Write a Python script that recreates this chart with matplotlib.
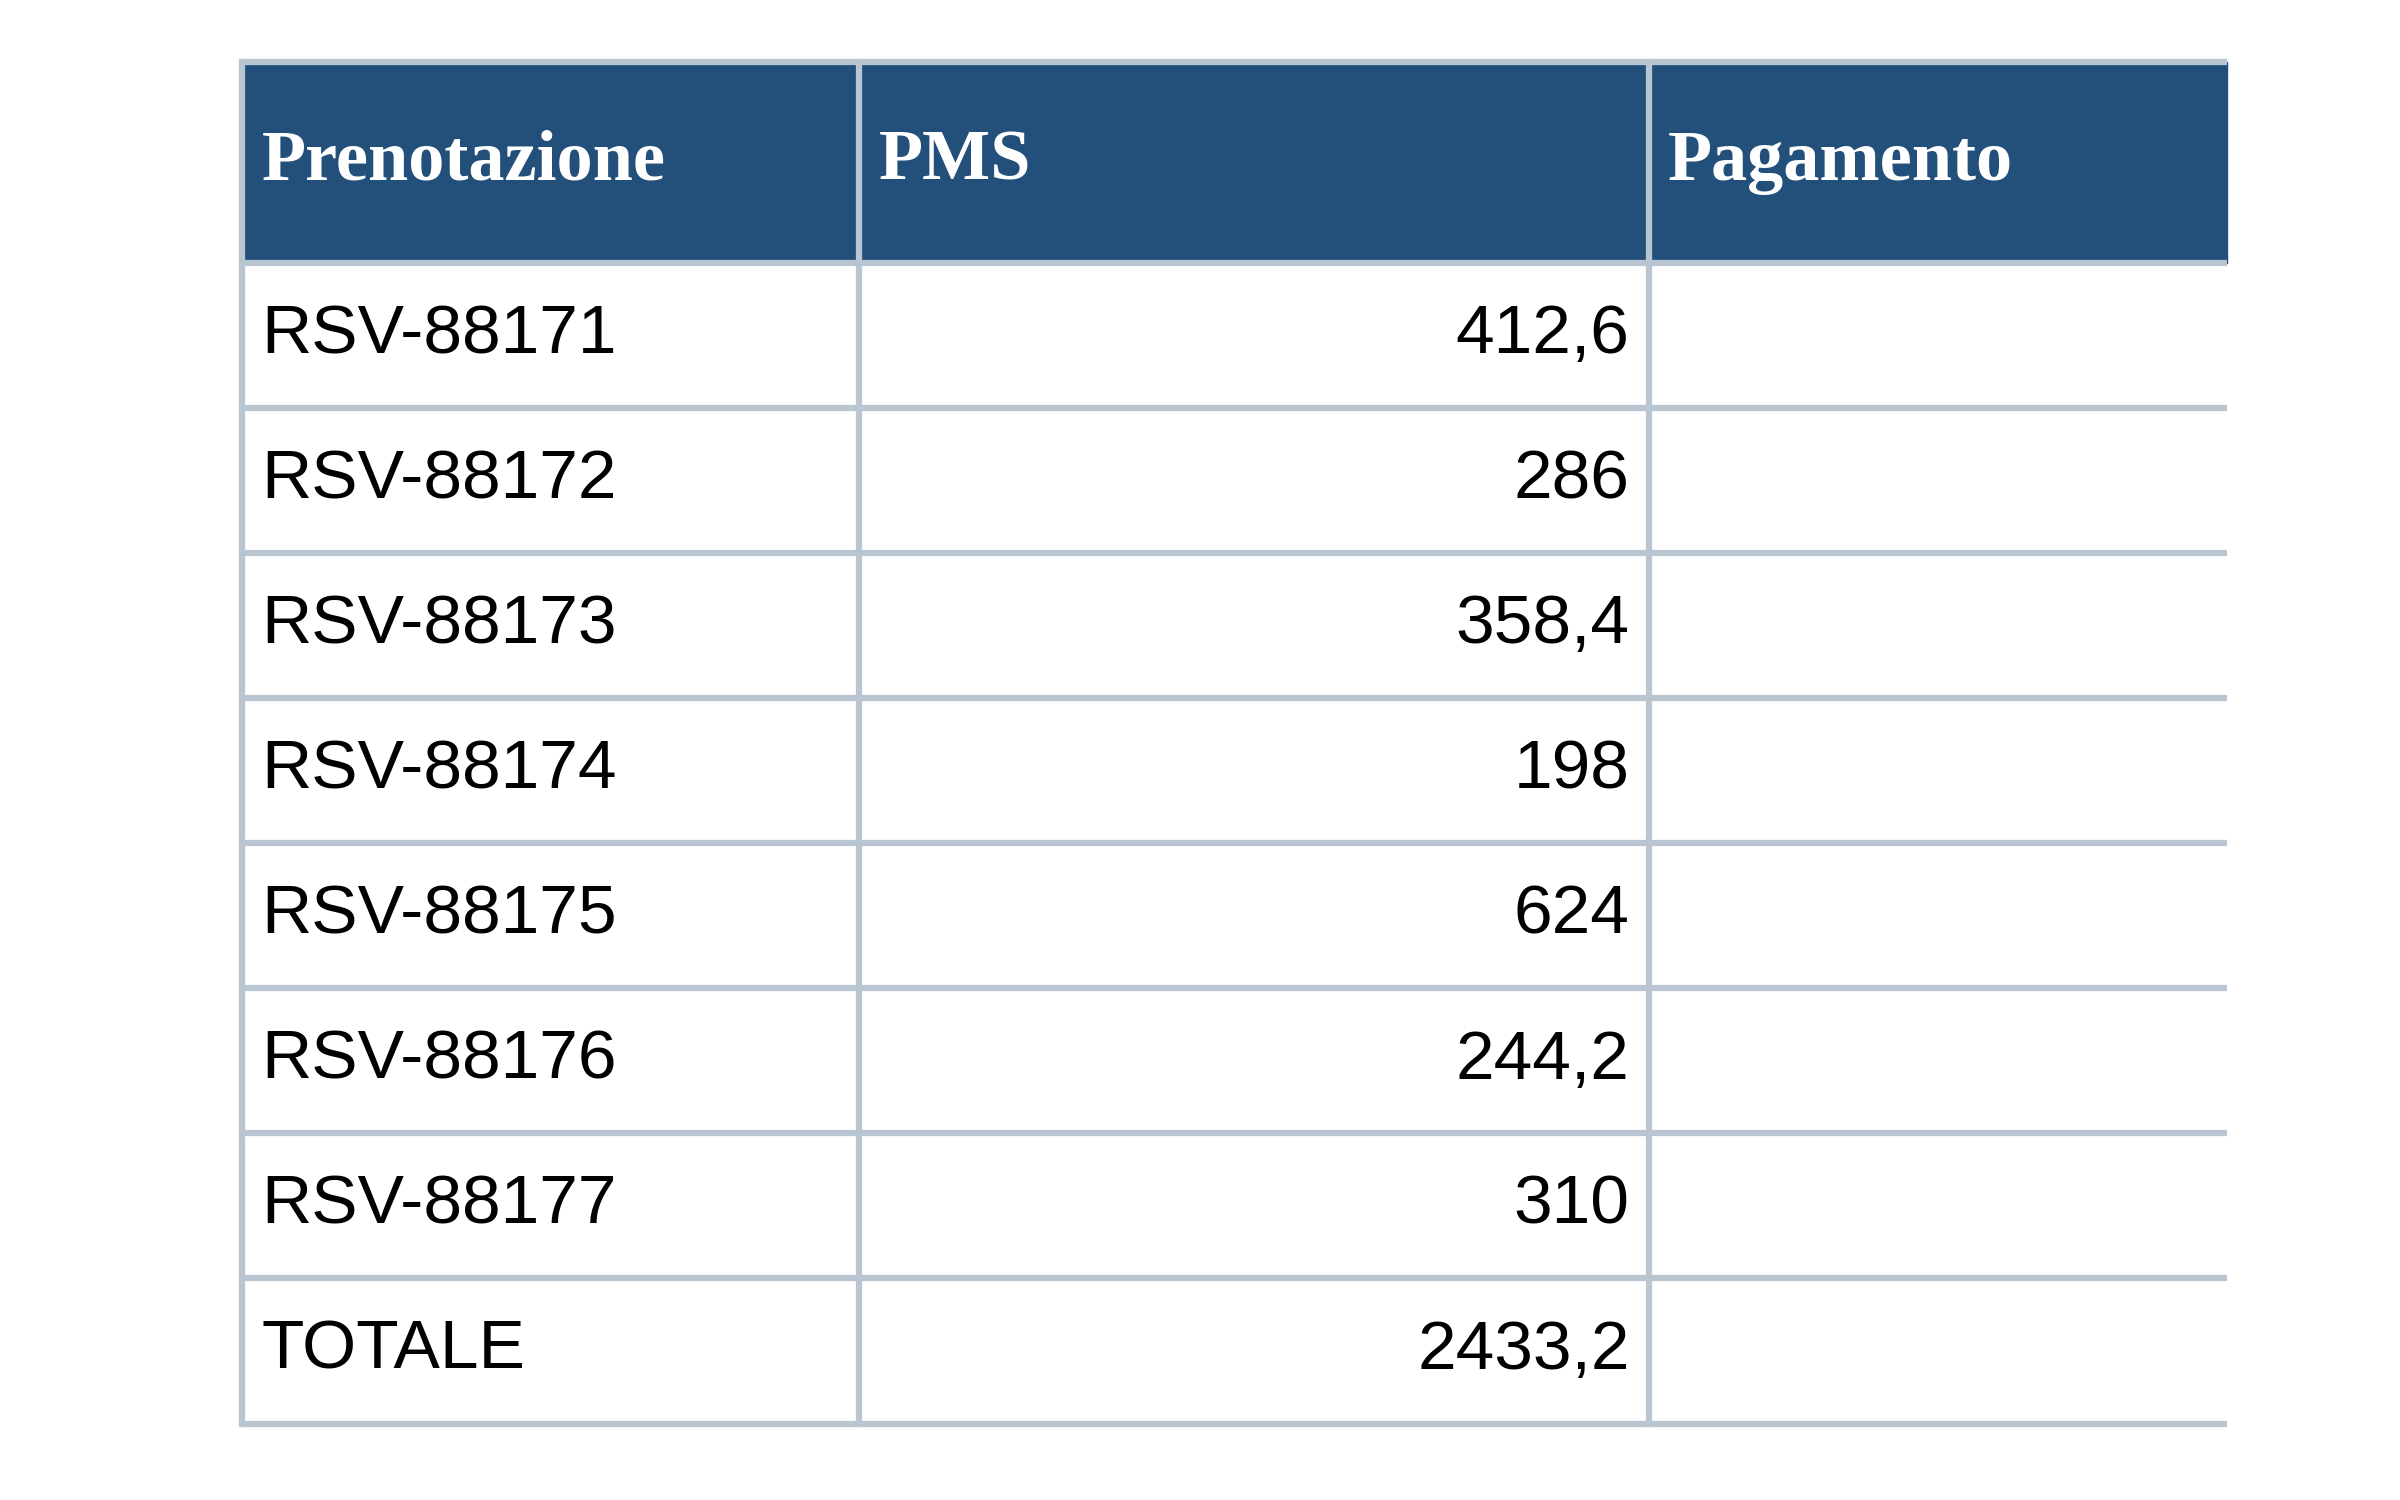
import matplotlib

matplotlib.use("Agg")

import matplotlib.pyplot as plt

headers = ["Prenotazione", "PMS", "Pagamento"]
bookings = ["RSV-88171", "RSV-88172", "RSV-88173", "RSV-88174",
            "RSV-88175", "RSV-88176", "RSV-88177", "TOTALE"]
pms_values = ["412,6", "286", "358,4", "198", "624", "244,2", "310", "2433,2"]

HEADER_BG = "#22507a"
GRID = "#b9c5d1"

col_x = [0.101, 0.358, 0.687, 0.928]
top, header_bottom, bottom = 0.959, 0.825, 0.051
row_h = (header_bottom - bottom) / len(bookings)

fig = plt.figure(figsize=(24, 15), dpi=100)
ax = fig.add_axes([0, 0, 1, 1])
ax.set_xlim(0, 1)
ax.set_ylim(0, 1)
ax.axis("off")

ax.add_patch(plt.Rectangle((col_x[0], header_bottom), col_x[-1] - col_x[0],
                           top - header_bottom, color=HEADER_BG, zorder=1))

for i, name in enumerate(headers):
    ax.text(col_x[i] + 0.008, (top + header_bottom) / 2, name,
            family=["Liberation Serif", "DejaVu Serif"], fontweight="bold",
            fontsize=52, color="white", va="center", ha="left", zorder=3)

for r, (name, value) in enumerate(zip(bookings, pms_values)):
    yc = header_bottom - (r + 0.5) * row_h
    ax.text(col_x[0] + 0.008, yc, name, family=["Liberation Sans", "DejaVu Sans"],
            fontsize=50, va="center", ha="left", color="black", zorder=3)
    ax.text(col_x[2] - 0.008, yc, value, family=["Liberation Sans", "DejaVu Sans"],
            fontsize=50, va="center", ha="right", color="black", zorder=3)

# grid lines
lw = 4.5
for k in range(len(bookings) + 1):
    y = header_bottom - k * row_h
    ax.plot([col_x[0], col_x[-1]], [y, y], color=GRID, lw=lw, zorder=2,
            solid_capstyle="butt")
ax.plot([col_x[0], col_x[-1]], [top, top], color=GRID, lw=lw, zorder=2,
        solid_capstyle="butt")
for x in col_x[:3]:
    ax.plot([x, x], [bottom, top], color=GRID, lw=lw, zorder=2,
            solid_capstyle="projecting")

fig.savefig("out.png", dpi=100, facecolor="white")
